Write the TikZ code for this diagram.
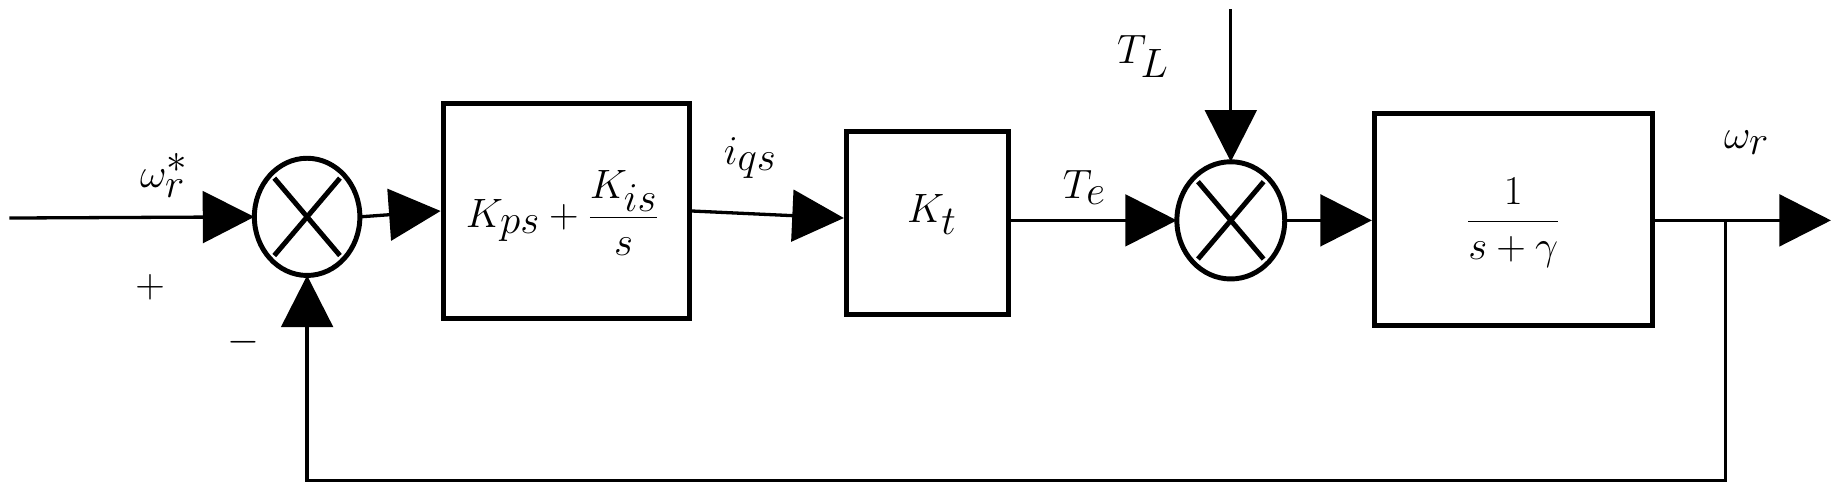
\documentclass[tikz,border=0pt]{standalone}
\usepackage{amsmath}
\usetikzlibrary{arrows.meta}
\begin{document}
\begin{tikzpicture}[x=0.025cm,y=-0.025cm,
  blk/.style={draw,line width=3pt,inner sep=0pt},
  sig/.style={line width=2pt,-{Triangle[length=1.1cm,width=1.1cm]}},
  lbl/.style={font=\fontsize{38}{44}\selectfont}]
\useasboundingbox (0,0) rectangle (1568,421);
\node[blk,minimum width=210*0.025cm,minimum height=184*0.025cm] (b1) at (483,180) {};
\node[lbl] at (480,182) {$K_{ps}+\dfrac{K_{is}}{s}$};
\node[blk,minimum width=138*0.025cm,minimum height=156*0.025cm] (b2) at (791,190) {};
\node[lbl] at (795,183) {$K_t$};
\node[blk,minimum width=237*0.025cm,minimum height=181*0.025cm] (b3) at (1291,187) {};
\node[lbl] at (1291,190) {$\dfrac{1}{s+\gamma}$};
\draw[line width=3pt] (262,185) ellipse (45 and 50);
\draw[line width=3pt] (262,185) ++(-28,-33) -- ++(56,66) ++(0,-66) -- ++(-56,66);
\draw[line width=3pt] (1050,188) ellipse (46 and 50);
\draw[line width=3pt] (1050,188) ++(-28,-33) -- ++(56,66) ++(0,-66) -- ++(-56,66);
\coordinate (s1w) at (217,185); \coordinate (s1e) at (307,185);
\coordinate (s1s) at (262,235);
\coordinate (s2w) at (1004,188); \coordinate (s2e) at (1096,188); \coordinate (s2n) at (1050,138);
\coordinate (in) at (8,186); \coordinate (tl) at (1050,8);
\coordinate (out) at (1562,188); \coordinate (tap) at (1472,188);
\draw[sig] (in) -- (s1w);
\draw[sig] (s1e) -- (b1.west);
\draw[sig] (b1.east) -- (b2.west|-0,186);
\draw[sig] (b2.east|-0,188) -- (s2w);
\draw[sig] (s2e) -- (b3.west|-0,188);
\draw[sig] (b3.east|-0,188) -- (out);
\draw[sig] (tl) -- (s2n);
\draw[sig] (tap) -- (1472,410) -- (262,410) -- (s1s);
\node[lbl] at (140,150) {$\omega_r^*$};
\node[lbl] at (128,245) {$+$};
\node[lbl] at (208,292) {$-$};
\node[lbl] at (640,135) {$i_{qs}$};
\node[lbl] at (925,160) {$T_e$};
\node[lbl] at (975,48) {$T_L$};
\node[lbl] at (1490,122) {$\omega_r$};
\end{tikzpicture}
\end{document}
